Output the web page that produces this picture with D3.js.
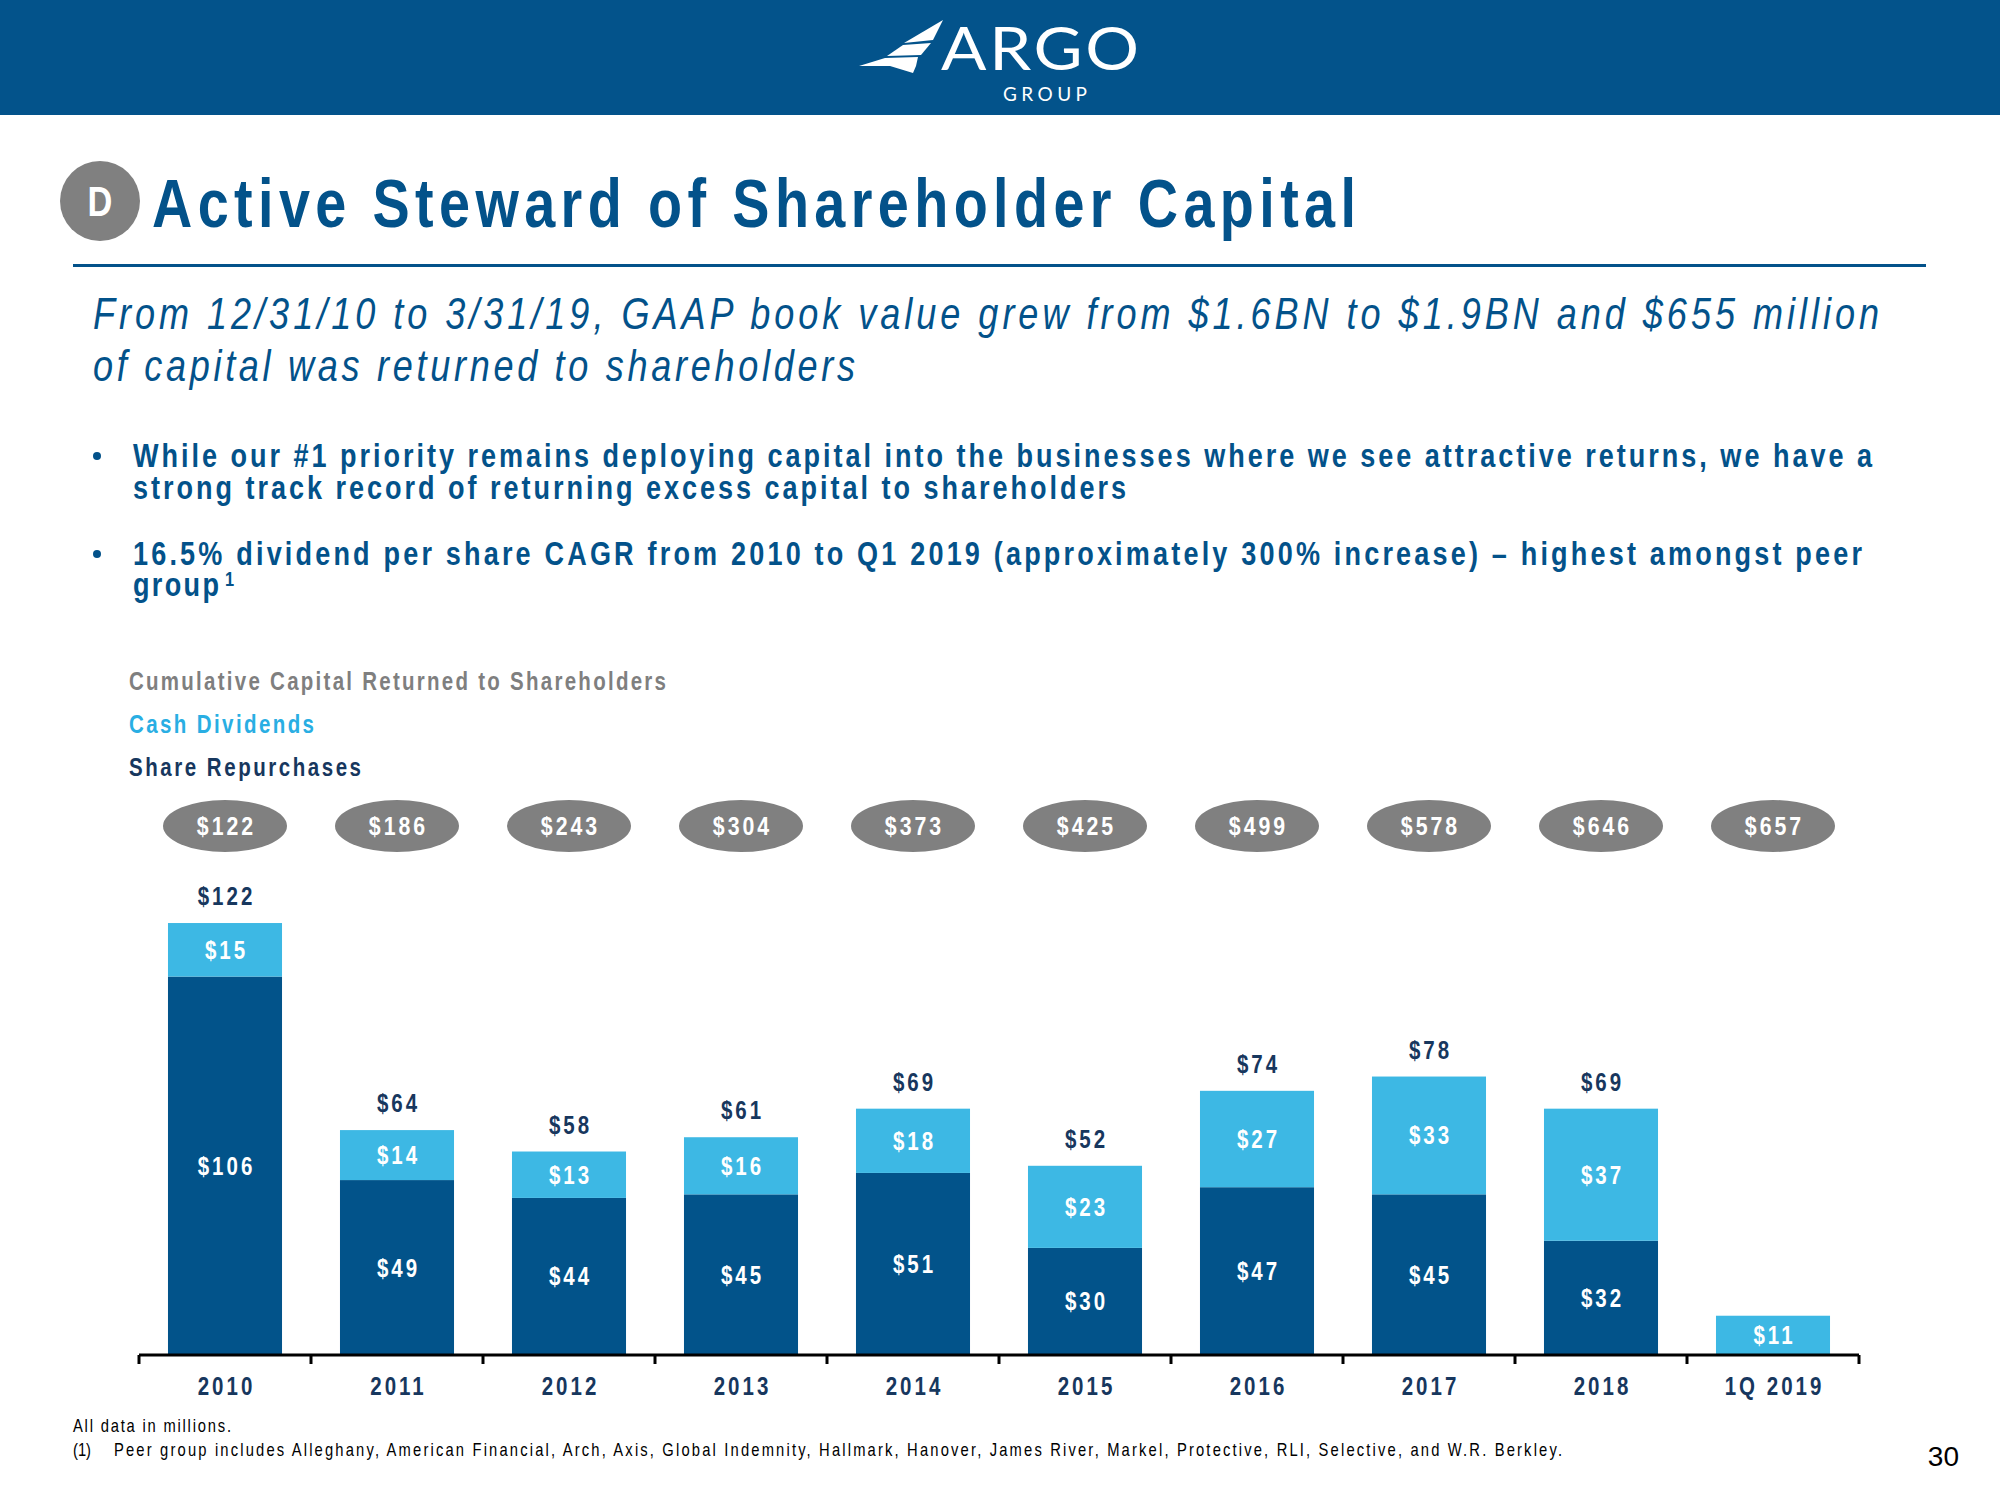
<!DOCTYPE html>
<html>
<head>
<meta charset="utf-8">
<script src="https://cdn.jsdelivr.net/npm/d3@7/dist/d3.min.js"></script>
<style>
  html, body { margin: 0; padding: 0; background: #ffffff; }
  svg { display: block; }
  text { font-family: "Liberation Sans", Arial, sans-serif; }
</style>
</head>
<body>
<svg id="chart" width="2000" height="1500"></svg>
<script>
// ---------------- DATA ----------------
const categories = ["2010", "2011", "2012", "2013", "2014", "2015", "2016", "2017", "2018", "1Q 2019"];
const shareRepurchases = [106, 49, 44, 45, 51, 30, 47, 45, 32, 0];
const cashDividends = [15, 14, 13, 16, 18, 23, 27, 33, 37, 11];
const annualTotals = [122, 64, 58, 61, 69, 52, 74, 78, 69, null];
const cumulativeTotals = [122, 186, 243, 304, 373, 425, 499, 578, 646, 657];

const titleText = "Active Steward of Shareholder Capital";
const subtitleLines = [
  "From 12/31/10 to 3/31/19, GAAP book value grew from $1.6BN to $1.9BN and $655 million",
  "of capital was returned to shareholders"
];
const bullet1Lines = [
  "While our #1 priority remains deploying capital into the businesses where we see attractive returns, we have a",
  "strong track record of returning excess capital to shareholders"
];
const bullet2Lines = [
  "16.5% dividend per share CAGR from 2010 to Q1 2019 (approximately 300% increase) \u2013 highest amongst peer",
  "group"
];
const legendLabels = ["Cumulative Capital Returned to Shareholders", "Cash Dividends", "Share Repurchases"];
const footnotes = [
  "All data in millions.",
  "Peer group includes Alleghany, American Financial, Arch, Axis, Global Indemnity, Hallmark, Hanover, James River, Markel, Protective, RLI, Selective, and W.R. Berkley."
];

// ---------------- STYLE ----------------
const NAVY = "#02538a";
const LIGHT = "#3db8e4";
const LABEL = "#17375e";
const GRAY = "#7f7f7f";
const SX = 0.82; // horizontal condensing to mimic a narrow face

const svg = d3.select("#chart");

// narrow text helper
function nt(parent, o) {
  const sx = o.sx || SX;
  const t = parent.append("text")
    .attr("transform", `translate(${o.x},${o.y}) scale(${sx},1)`)
    .attr("text-anchor", o.anchor || "start")
    .attr("fill", o.fill || "#000")
    .style("font-size", o.size + "px")
    .style("font-weight", o.weight || 400)
    .text(o.text);
  if (o.italic) t.style("font-style", "italic");
  if (o.family) t.style("font-family", o.family);
  if (o.width) t.attr("textLength", o.width / sx).attr("lengthAdjust", "spacing");
  if (o.ls) {
    t.style("letter-spacing", (o.ls / sx) + "px");
    if (o.anchor === "middle") t.attr("dx", (o.ls / sx) / 2);
  }
  return t;
}

// header band
svg.append("rect").attr("x", 0).attr("y", 0).attr("width", 2000).attr("height", 115).attr("fill", "#03538b");

// logo
const logo = svg.append("g").attr("fill", "#ffffff");
logo.append("path").attr("d", "M943,20 L904,43 L933,40 Z");
logo.append("path").attr("d", "M931,43 L903,45 L887,56 L921,55 Z");
logo.append("path").attr("d", "M918,57 L885,58 L859,66 L890,66 L913,73 L916,66 Z");
nt(logo, { x: 941, y: 70, text: "ARGO", size: 60, weight: 400, fill: "#fff", width: 198, sx: 1.12,
  family: "Lato, 'Open Sans', sans-serif" });
nt(logo, { x: 1003, y: 101, text: "GROUP", size: 19, weight: 400, fill: "#fff", width: 84, sx: 1.0,
  family: "Lato, 'Open Sans', sans-serif" });

// title with D circle
svg.append("circle").attr("cx", 100).attr("cy", 201).attr("r", 40).attr("fill", "#808080");
nt(svg, { x: 100, y: 216, text: "D", size: 42, weight: 700, fill: "#fff", anchor: "middle" });
nt(svg, { x: 152, y: 227, text: titleText, size: 68, weight: 700, fill: "#03528a", width: 1204 });
svg.append("rect").attr("x", 73).attr("y", 264).attr("width", 1853).attr("height", 3).attr("fill", "#03528a");

// subtitle
const subLens = [1786, 762];
const subY = [329, 381];
subtitleLines.forEach((t, i) => {
  nt(svg, { x: 93, y: subY[i], text: t, size: 44, weight: 400, italic: true, fill: "#03528a", width: subLens[i] });
});

// bullets
function bullet(lines, ys, lens, dotY) {
  svg.append("circle").attr("cx", 97).attr("cy", dotY).attr("r", 4).attr("fill", "#03528a");
  lines.forEach((t, i) => {
    nt(svg, { x: 133, y: ys[i], text: t, size: 33, weight: 700, fill: "#03528a", width: lens[i] });
  });
}
bullet(bullet1Lines, [467, 499], [1739, 993], 456);
bullet(bullet2Lines, [565, 596], [1729, 86], 554);
nt(svg, { x: 225, y: 586, text: "1", size: 20, weight: 700, fill: "#03528a" });

// legend
const legColors = [GRAY, "#29aee3", LABEL];
const legY = [690, 733, 776];
const legLens = [537, 185, 232];
legendLabels.forEach((t, i) => {
  nt(svg, { x: 129, y: legY[i], text: t, size: 25, weight: 700, fill: legColors[i], width: legLens[i] });
});

// ---------------- CHART ----------------
const x = d3.scaleBand().domain(categories).range([139, 1859]).paddingInner(0.337).paddingOuter(0.1685);
const y = d3.scaleLinear().domain([0, 100]).range([1355, 998]);

const rows = categories.map((c, i) => ({
  cat: c, rep: shareRepurchases[i], div: cashDividends[i],
  total: annualTotals[i], cum: cumulativeTotals[i]
}));
const stack = d3.stack().keys(["rep", "div"])(rows);
const segColors = { rep: NAVY, div: LIGHT };

const layers = svg.append("g").selectAll("g").data(stack).join("g").attr("fill", d => segColors[d.key]);
layers.selectAll("rect").data(d => d.filter(s => s[1] - s[0] > 0)).join("rect")
  .attr("x", d => x(d.data.cat))
  .attr("width", x.bandwidth())
  .attr("y", d => y(d[1]))
  .attr("height", d => y(d[0]) - y(d[1]));

const cx = c => x(c) + x.bandwidth() / 2;

// segment labels
const segLabels = svg.append("g");
stack.forEach(layer => {
  layer.filter(s => s[1] - s[0] > 0).forEach(d => {
    nt(segLabels, { x: cx(d.data.cat), y: (y(d[0]) + y(d[1])) / 2 + 9, text: "$" + d.data[layer.key],
      size: 25, weight: 700, fill: "#fff", anchor: "middle", ls: 3 });
  });
});

// total labels
const totLabels = svg.append("g");
rows.filter(r => r.total !== null).forEach(d => {
  nt(totLabels, { x: cx(d.cat), y: y(d.rep + d.div) - 18, text: "$" + d.total,
    size: 25, weight: 700, fill: LABEL, anchor: "middle", ls: 3 });
});

// cumulative ellipses
const cumG = svg.append("g").selectAll("g").data(rows).join("g")
  .attr("transform", d => `translate(${cx(d.cat)},826)`);
cumG.append("ellipse").attr("rx", 62).attr("ry", 26).attr("fill", "#808080");
cumG.each(function (d) {
  nt(d3.select(this), { x: 0, y: 9, text: "$" + d.cum, size: 26, weight: 700, fill: "#fff", anchor: "middle", ls: 3 });
});

// x axis
const axisG = svg.append("g").attr("transform", "translate(0,1355)");
axisG.append("line").attr("x1", 139).attr("x2", 1859).attr("y1", 0).attr("y2", 0)
  .attr("stroke", "#000000").attr("stroke-width", 3);
const tickXs = categories.map(c => x(c) - x.step() * x.paddingInner() / 2).concat([1859]);
axisG.selectAll("line.tick").data(tickXs).join("line").attr("class", "tick")
  .attr("x1", d => d).attr("x2", d => d).attr("y1", 0).attr("y2", 9)
  .attr("stroke", "#000000").attr("stroke-width", 3);
categories.forEach(c => {
  nt(axisG, { x: cx(c), y: 40, text: c, size: 25, weight: 700, fill: LABEL, anchor: "middle", ls: 3 });
});

// footnotes
nt(svg, { x: 73, y: 1432, text: footnotes[0], size: 18, fill: "#000", width: 158 });
nt(svg, { x: 73, y: 1456, text: "(1)", size: 18, fill: "#000" });
nt(svg, { x: 114, y: 1456, text: footnotes[1], size: 18, fill: "#000", width: 1448 });

// page number
svg.append("text").attr("x", 1959).attr("y", 1466).attr("text-anchor", "end").attr("fill", "#000000")
  .style("font-size", "28px").text("30");
</script>
</body>
</html>
